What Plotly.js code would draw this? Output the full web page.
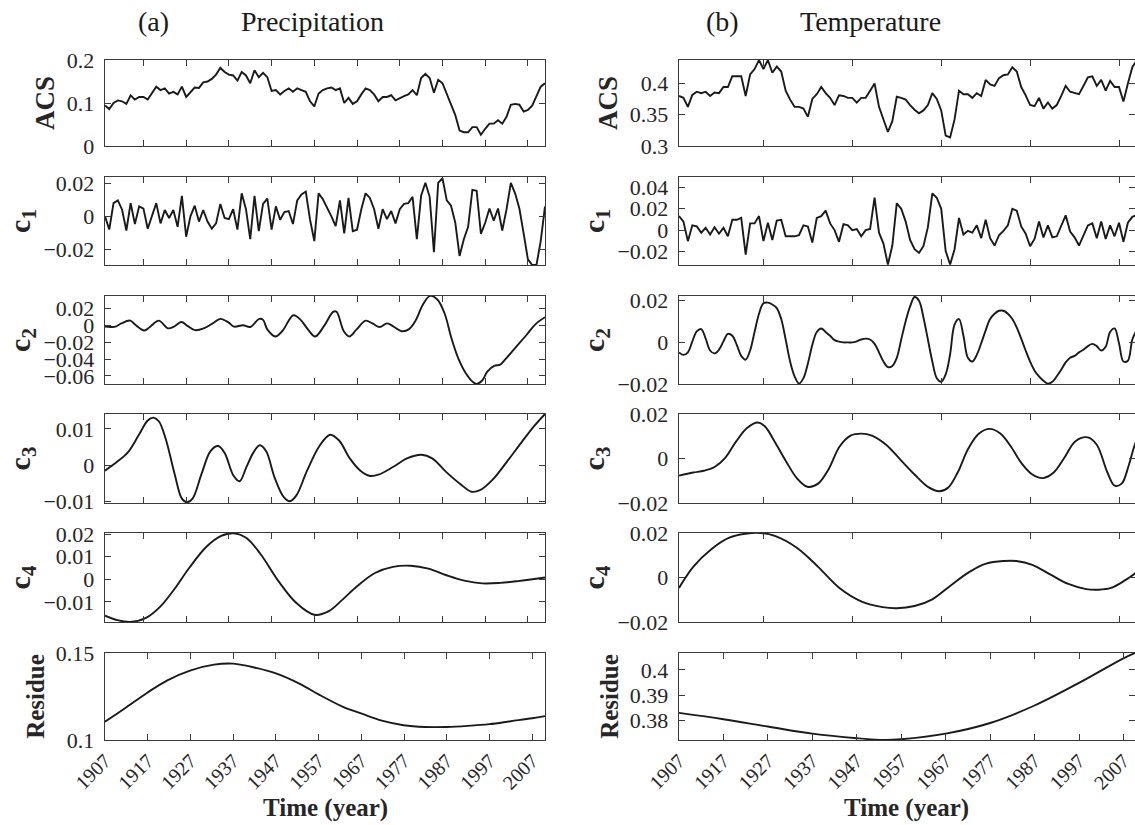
<!DOCTYPE html>
<html><head><meta charset="utf-8">
<script src="https://cdn.plot.ly/plotly-3.0.1.min.js"></script>
<style>html,body{margin:0;padding:0;background:#fff;} #chart{width:1135px;height:825px;}</style>
</head><body><div id="chart"></div>
<script>
// ---------------- DATA ----------------
const startYear = 1907, endYear = 2010;
const years = []; for (let y = startYear; y <= endYear; y++) years.push(y);

// (a) Precipitation
const precipACS = [0.094,0.086,0.100,0.106,0.104,0.098,0.118,0.108,0.114,0.114,
0.108,0.122,0.138,0.130,0.134,0.122,0.126,0.120,0.138,0.114,
0.126,0.136,0.135,0.148,0.150,0.156,0.166,0.182,0.172,0.166,
0.164,0.152,0.172,0.164,0.146,0.176,0.160,0.170,0.160,0.128,
0.130,0.120,0.128,0.134,0.126,0.134,0.130,0.126,0.104,0.092,
0.122,0.130,0.134,0.136,0.130,0.134,0.100,0.112,0.098,0.104,
0.120,0.134,0.130,0.120,0.104,0.114,0.114,0.118,0.106,0.112,
0.116,0.120,0.130,0.118,0.158,0.168,0.158,0.124,0.154,0.146,
0.120,0.096,0.072,0.036,0.032,0.032,0.044,0.044,0.026,0.040,
0.052,0.052,0.060,0.052,0.068,0.096,0.098,0.096,0.080,0.084,
0.094,0.116,0.138,0.146];
const precipC1 = [0,-0.008,0.008,0.0096,0.004,-0.0086,0.008,-0.0047,0.006,0.0047,
-0.0075,0,0.008,-0.0043,0.0038,-0.001,0.0038,-0.0064,0.0124,-0.0124,
0,0.0064,-0.0032,0.0038,-0.0032,-0.0075,-0.0043,0.0075,-0.001,-0.0017,
0.0043,-0.0081,0.0139,0.0043,-0.0139,0.0124,-0.009,0.0075,0.0107,-0.0081,
0.006,-0.0021,0.0026,0.0032,-0.0047,0.0096,0.0133,0.015,-0.0021,-0.015,
0.0139,0.0103,0.0053,0,-0.006,0.0096,-0.0103,0.0111,-0.009,-0.0081,
0.0043,0.0139,0.0111,0.0043,-0.0075,0.0043,-0.0017,0.0032,-0.0043,0.0043,
0.0075,0.008,0.0118,-0.0139,0.0124,0.0203,0.0118,-0.0218,0.0203,0.0231,
0.0096,0.0064,-0.0039,-0.024,-0.0139,-0.0064,0.016,0.0154,-0.0107,-0.0039,
0.0047,-0.0026,0.0047,-0.0086,0.0043,0.0203,0.0139,0.0047,-0.0103,-0.0261,
-0.0295,-0.0295,-0.015,0.006];
const precipC2Years = [1907.0,1908.3,1909.5,1910.8,1912.9,1914.1,1916.2,1917.5,1919.6,1921.7,1923.0,1924.9,1926.3,1928.0,1930.1,1932.2,1934.0,1935.9,1937.2,1939.3,1941.0,1943.1,1944.0,1945.0,1946.9,1948.6,1951.1,1952.8,1954.5,1956.2,1958.3,1960.4,1961.2,1962.9,1964.2,1965.9,1968.0,1969.6,1971.3,1973.0,1974.7,1976.4,1978.1,1979.7,1981.4,1983.1,1984.8,1986.5,1988.1,1989.8,1991.5,1993.2,1994.0,1995.3,1996.5,1998.2,1999.5,2000.7,2003.2,2005.7,2007.8,2010.0];
const precipC2 = [-0.0017,-0.0021,-0.0017,0.0021,0.0054,0.0004,-0.0063,-0.0021,0.0054,-0.0037,-0.0021,0.0038,-0.0008,-0.0058,-0.0038,0.0021,0.0075,0.0033,-0.0017,0.0,-0.0021,0.0075,0.0063,-0.005,-0.0133,-0.0063,0.0117,0.0063,-0.005,-0.0133,-0.0008,0.0158,0.0158,-0.0071,-0.0133,-0.005,0.0054,0.0021,-0.0021,0.0021,-0.0021,-0.0071,-0.005,0.0054,0.0242,0.0346,0.0304,0.0138,-0.0154,-0.0404,-0.0571,-0.0675,-0.0694,-0.0654,-0.055,-0.0479,-0.0467,-0.0404,-0.0258,-0.0113,0.0013,0.0094];
const precipC3Years = [1907.0,1909.9,1912.4,1914.9,1917.0,1918.3,1919.6,1921.2,1923.3,1925.0,1926.2,1927.5,1929.6,1931.7,1933.5,1935.0,1937.1,1938.5,1940.1,1941.7,1943.2,1944.7,1946.7,1948.8,1950.3,1951.8,1954.3,1957.2,1959.7,1961.8,1964.3,1966.8,1968.9,1971.0,1974.4,1977.7,1981.1,1983.6,1986.9,1990.3,1992.8,1994.9,1997.8,2001.1,2004.5,2007.4,2010.0];
const precipC3 = [-0.0015,0.001,0.0036,0.0083,0.0123,0.0131,0.0121,0.0073,-0.0024,-0.0092,-0.0102,-0.0092,-0.0024,0.0039,0.0053,0.0034,-0.0029,-0.0044,-0.0005,0.0034,0.0055,0.0039,-0.0034,-0.0087,-0.0099,-0.0083,-0.0015,0.0053,0.0084,0.0068,0.0019,-0.0015,-0.0029,-0.0026,-0.0005,0.0019,0.0029,0.0019,-0.0019,-0.0053,-0.0073,-0.0068,-0.0039,0.001,0.0063,0.0107,0.0141];
const precipC4Years = [1907.0,1909.9,1913.3,1916.6,1920.0,1923.3,1926.7,1930.8,1934.2,1937.1,1940.1,1943.4,1947.6,1951.8,1956.0,1959.3,1962.6,1966.0,1970.2,1974.4,1978.5,1982.7,1986.9,1991.1,1995.3,1999.5,2003.7,2010.0];
const precipC4 = [-0.0161,-0.0181,-0.0188,-0.0171,-0.0120,-0.0042,0.0050,0.0145,0.0192,0.0204,0.0183,0.0112,-0.0008,-0.0105,-0.0157,-0.0142,-0.0090,-0.0031,0.0028,0.0055,0.006,0.0047,0.0018,-0.0006,-0.0018,-0.0016,-0.0008,0.0008];
const precipResYears = [1907.0,1911.6,1916.9,1921.6,1926.9,1932.5,1937.0,1942.6,1947.0,1952.6,1957.0,1962.6,1967.1,1971.8,1976.9,1981.9,1986.9,1991.9,1997.0,2002.0,2007.0,2010.0];
const precipRes = [0.1105,0.1181,0.1272,0.1343,0.1399,0.1433,0.1439,0.1413,0.1383,0.1323,0.1262,0.1192,0.1151,0.1111,0.1085,0.1075,0.1075,0.1081,0.1091,0.1108,0.1125,0.1137];

// (b) Temperature
const tempACS = [0.380,0.377,0.3626,0.3816,0.3868,0.3845,0.3868,0.380,0.3856,0.3845,
0.3943,0.3943,0.4115,0.4115,0.4115,0.380,0.4144,0.423,0.4374,0.423,
0.4374,0.4172,0.427,0.419,0.3885,0.3741,0.3626,0.3626,0.3598,0.3466,
0.3753,0.3828,0.3943,0.3845,0.377,0.3655,0.381,0.380,0.377,0.377,
0.3695,0.377,0.377,0.3885,0.400,0.3626,0.3425,0.3224,0.3397,0.3787,
0.377,0.3741,0.3655,0.358,0.3523,0.3569,0.3655,0.3845,0.3753,0.3569,
0.3167,0.3138,0.3425,0.3885,0.3828,0.3828,0.377,0.3845,0.380,0.4057,
0.3983,0.396,0.4086,0.4132,0.4144,0.4259,0.419,0.3943,0.381,0.3655,
0.3638,0.377,0.3598,0.3695,0.3598,0.3655,0.380,0.396,0.3868,0.3845,
0.3828,0.396,0.4098,0.4115,0.396,0.4057,0.3885,0.404,0.3943,0.3943,
0.3713,0.400,0.4259,0.437];
const tempC1 = [0.013,0.0079,-0.0103,0.0044,0.0034,-0.0024,0.0021,-0.0041,0.0027,-0.0034,
0.0021,-0.0058,0.0096,0.0096,0.0113,-0.0229,0.0062,0.0062,0.013,-0.0103,
0.0068,-0.0092,0.0089,0.0096,-0.0058,-0.0058,-0.0058,-0.0048,0.0044,0.0034,
-0.0116,0.0113,0.013,0.0181,0.0062,0,-0.0109,0.0055,0.0044,0,
0.001,-0.0058,0,0.001,0.0301,-0.0024,-0.0126,-0.0321,-0.0144,0.025,
0.0198,0.0079,-0.0092,-0.0178,-0.0212,-0.015,0.0027,0.0342,0.0301,0.0198,
-0.0195,-0.0321,-0.0178,0.0113,-0.0041,-0.0007,-0.0024,0.0044,-0.0075,0.0096,
-0.0075,-0.0144,-0.0048,-0.0007,0.0044,0.0198,0.0181,0.0034,-0.0034,-0.015,
-0.0082,0.0079,-0.0068,0.0044,-0.0068,-0.0058,0.0044,0.0137,-0.0014,-0.0068,
-0.0144,-0.0058,0.0044,0.0062,-0.0075,0.0079,-0.0082,0.0044,-0.0058,0.0068,
-0.0109,0.0068,0.0123,0.014];
const tempC2 = [-0.0048,-0.0060,-0.0048,0.0005,0.0053,0.0064,0.0018,-0.0039,-0.0053,-0.0035,
0.0005,0.0041,0.0032,-0.0012,-0.0065,-0.0083,-0.0039,0.0050,0.0138,0.0188,
0.0191,0.0182,0.0165,0.0112,0.0014,-0.0092,-0.0163,-0.0198,-0.0172,-0.0101,
-0.0012,0.0050,0.0067,0.0050,0.0032,0.0011,0.0004,0.0,0.0,0.0,
0.0005,0.0014,0.0018,0.0014,-0.0007,-0.0048,-0.0092,-0.0119,-0.0113,-0.0074,
0.0014,0.0102,0.0173,0.0218,0.0200,0.0120,0.0014,-0.0092,-0.0172,-0.0189,
-0.0154,-0.0057,0.0085,0.0112,0.0032,-0.0074,-0.0092,-0.0060,-0.0004,0.0058,
0.0112,0.0138,0.0152,0.0152,0.0138,0.0112,0.0071,0.0018,-0.0039,-0.0092,
-0.0136,-0.0163,-0.0184,-0.0198,-0.0189,-0.0163,-0.0131,-0.0096,-0.0074,-0.0065,
-0.0048,-0.0035,-0.0018,-0.0007,-0.0018,-0.0039,-0.0021,0.0050,0.0067,-0.0004,
-0.0092,-0.0088,0.0014,0.0060];
const tempC3Years = [1907.0,1910.2,1912.6,1915.0,1917.4,1919.9,1922.3,1924.7,1926.3,1928.7,1931.1,1933.5,1935.9,1938.3,1940.7,1943.1,1945.6,1948.0,1950.4,1953.6,1956.8,1960.0,1963.2,1965.6,1967.6,1969.7,1972.1,1974.5,1976.9,1979.3,1981.7,1984.1,1986.5,1988.9,1991.3,1993.7,1996.2,1999.0,2001.0,2003.4,2005.0,2006.6,2008.2,2009.4,2010.0];
const tempC3 = [-0.0077,-0.0063,-0.0055,-0.0038,0.0003,0.0078,0.0137,0.0162,0.0145,0.0070,-0.0013,-0.0088,-0.0127,-0.0113,-0.0047,0.0053,0.0103,0.0112,0.0103,0.0062,-0.0005,-0.0072,-0.0130,-0.0147,-0.0130,-0.0063,0.0045,0.0112,0.0133,0.0112,0.0053,-0.0022,-0.0072,-0.0088,-0.0063,0.0003,0.0078,0.0095,0.0062,-0.0063,-0.0122,-0.0113,-0.0030,0.0053,0.0085];
const tempC4Years = [1907.0,1910.2,1914.2,1918.2,1922.3,1925.5,1928.7,1933.5,1938.3,1943.1,1948.0,1952.8,1956.0,1960.0,1964.0,1968.0,1972.1,1976.1,1980.1,1982.9,1986.5,1990.5,1994.6,1998.6,2001.4,2004.2,2007.4,2010.0];
const tempC4 = [-0.0047,0.0048,0.0126,0.0178,0.0198,0.0200,0.0186,0.0134,0.0048,-0.0047,-0.0107,-0.0133,-0.0138,-0.0128,-0.0098,-0.0038,0.0022,0.0062,0.0074,0.0074,0.0057,0.0014,-0.0029,-0.0052,-0.0055,-0.0047,-0.0012,0.0024];
const tempResYears = [1907,1917,1927,1937,1947,1953.4,1957,1967,1977,1987,1997,2007,2010];
const tempRes = [0.3831,0.3806,0.3777,0.3749,0.3731,0.3724,0.3727,0.3749,0.3791,0.3860,0.3949,0.4046,0.4070];

// tick labels
const bottomTickYears = [1907,1917,1927,1937,1947,1957,1967,1977,1987,1997,2007];
const bottomTickText = ['1907','1917','1927','1937','1947','1957','1967','1977','1987','1997','2007'];
const leftTopTicks = [1916,1926,1936,1946,1956,1966,1976,1986,1996,2006];
const rightTopTicks = [1926,1946,1966,1986,2006];

const rowTitles = ['ACS','c<sub>1</sub>','c<sub>2</sub>','c<sub>3</sub>','c<sub>4</sub>','Residue'];
const panelLetters = ['(a)', '(b)'];
const panelNames = ['Precipitation', 'Temperature'];
const xTitle = 'Time (year)';

const precipYTicks = [[0,0.1,0.2],[-0.02,0,0.02],[-0.06,-0.04,-0.02,0,0.02],[-0.01,0,0.01],[-0.01,0,0.01,0.02],[0.1,0.15]];
const precipYText  = [['0','0.1','0.2'],['\u22120.02','0','0.02'],['\u22120.06','\u22120.04','\u22120.02','0','0.02'],['\u22120.01','0','0.01'],['\u22120.01','0','0.01','0.02'],['0.1','0.15']];
const tempYTicks = [[0.3,0.35,0.4],[-0.02,0,0.02,0.04],[-0.02,0,0.02],[-0.02,0,0.02],[-0.02,0,0.02],[0.38,0.39,0.4]];
const tempYText  = [['0.3','0.35','0.4'],['\u22120.02','0','0.02','0.04'],['\u22120.02','0','0.02'],['\u22120.02','0','0.02'],['\u22120.02','0','0.02'],['0.38','0.39','0.4']];

// ---------------- LAYOUT CONSTANTS ----------------
const W = 1135, H = 825;
const colPx = [[105, 545], [679, 1135]];
const rowPx = [[60,146],[177,265],[296,384],[414,503],[533,622],[653,740]];
const precipRanges = [[0,0.2],[-0.0295,0.0238],[-0.0695,0.0345],[-0.0104,0.0141],[-0.0189,0.0205],[0.1,0.15]];
const tempRanges = [[0.3,0.4375],[-0.0325,0.0494],[-0.02,0.0223],[-0.02,0.02],[-0.02,0.02],[0.3724,0.4067]];
const xRanges = [[1907, 2010], [1907, 2009.6]];

const serif = 'Liberation Serif, Times New Roman, serif';
const axColor = '#3a3a3a';
const lineColor = '#1a1a1a';

const seriesPrecip = [
  {x: years, y: precipACS, shape:'linear'},
  {x: years, y: precipC1, shape:'linear'},
  {x: precipC2Years, y: precipC2, shape:'spline'},
  {x: precipC3Years, y: precipC3, shape:'spline'},
  {x: precipC4Years, y: precipC4, shape:'spline'},
  {x: precipResYears, y: precipRes, shape:'spline'}
];
const seriesTemp = [
  {x: years, y: tempACS, shape:'linear'},
  {x: years, y: tempC1, shape:'linear'},
  {x: years, y: tempC2, shape:'spline'},
  {x: tempC3Years, y: tempC3, shape:'spline'},
  {x: tempC4Years, y: tempC4, shape:'spline'},
  {x: tempResYears, y: tempRes, shape:'spline'}
];

const traces = [];
const layout = {
  width: W, height: H,
  margin: {l:0, r:0, t:0, b:0},
  paper_bgcolor: '#fff', plot_bgcolor: '#fff',
  showlegend: false,
  font: {family: serif, color: '#262626'},
  annotations: []
};

function addPanel(col, row, s, yr, yt, ytxt) {
  const n = col * 6 + row + 1;
  const xk = n === 1 ? 'x' : 'x' + n, yk = n === 1 ? 'y' : 'y' + n;
  traces.push({type:'scatter', mode:'lines', x: s.x, y: s.y, xaxis: xk, yaxis: yk,
    line: {color: lineColor, width: 1.9, shape: s.shape, smoothing: 1}, hoverinfo:'skip'});
  const isBottom = row === 5;
  const xa = {
    domain: [colPx[col][0] / W, colPx[col][1] / W],
    range: xRanges[col], anchor: yk,
    tickmode: 'array',
    tickvals: isBottom ? bottomTickYears : (col === 0 ? leftTopTicks : rightTopTicks),
    showticklabels: isBottom,
    tickangle: -45,
    tickfont: {family: serif, size: 20, color: '#262626'},
    ticks: 'inside', ticklen: 6, tickcolor: axColor, tickwidth: 1,
    showline: true, mirror: 'ticks', linecolor: axColor, linewidth: 1.3,
    showgrid: false, zeroline: false, fixedrange: true
  };
  if (isBottom) xa.ticktext = bottomTickText;
  const ya = {
    domain: [1 - rowPx[row][1] / H, 1 - rowPx[row][0] / H],
    range: yr, anchor: xk,
    tickmode: 'array', tickvals: yt, ticktext: ytxt,
    tickfont: {family: serif, size: 22, color: '#262626'},
    ticks: 'inside', ticklen: 6, tickcolor: axColor, tickwidth: 1,
    ticklabelstandoff: 5,
    showline: true, mirror: 'ticks', linecolor: axColor, linewidth: 1.3,
    showgrid: false, zeroline: false, fixedrange: true,
    title: {text: '<b>' + rowTitles[row] + '</b>',
      font: {family: serif, size: row === 5 ? 25 : (row === 0 ? 27 : 30), color: '#262626'}, standoff: 4}
  };
  layout['xaxis' + (n === 1 ? '' : n)] = xa;
  layout['yaxis' + (n === 1 ? '' : n)] = ya;
  if (isBottom) {
    layout.annotations.push({text: '<b>' + xTitle + '</b>',
      x: (colPx[col][0] + colPx[col][1]) / 2 / W, y: 1 - 808 / H,
      xref: 'paper', yref: 'paper', xanchor: 'center', yanchor: 'middle', showarrow: false,
      font: {family: serif, size: 25, color: '#262626'}});
  }
}

for (let r = 0; r < 6; r++) addPanel(0, r, seriesPrecip[r], precipRanges[r], precipYTicks[r], precipYText[r]);
for (let r = 0; r < 6; r++) addPanel(1, r, seriesTemp[r], tempRanges[r], tempYTicks[r], tempYText[r]);

const headFont = {family: serif, size: 28, color: '#1a1a1a'};
const letterX = [153, 722], nameX = [312, 870];
for (let c = 0; c < 2; c++) {
  layout.annotations.push(
    {text: panelLetters[c], x: letterX[c] / W, y: 1 - 22 / H, xref:'paper', yref:'paper',
     xanchor:'center', yanchor:'middle', showarrow:false, font: headFont},
    {text: panelNames[c], x: nameX[c] / W, y: 1 - 22 / H, xref:'paper', yref:'paper',
     xanchor:'center', yanchor:'middle', showarrow:false, font: headFont}
  );
}

Plotly.newPlot('chart', traces, layout, {displayModeBar: false, staticPlot: true});
</script>
</body></html>
